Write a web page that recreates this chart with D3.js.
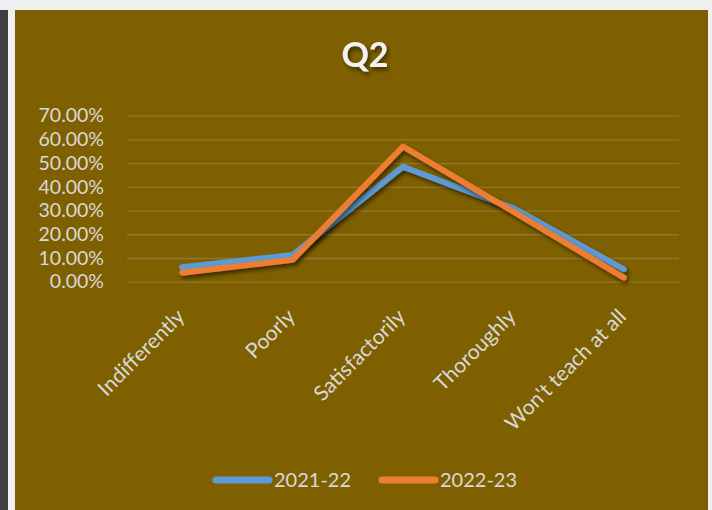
<!DOCTYPE html>
<html>
<head>
<meta charset="utf-8">
<script src="https://cdn.jsdelivr.net/npm/d3@7"></script>
<style>
  body { margin: 0; background: #f0f0f0; }
  svg { display: block; }
</style>
</head>
<body>
<div id="chart"></div>
<script>
// data
const categories = ["Indifferently", "Poorly", "Satisfactorily", "Thoroughly", "Won't teach at all"];
const values2122 = [0.061, 0.113, 0.485, 0.31, 0.052];
const values2223 = [0.038, 0.092, 0.57, 0.295, 0.017];
const seriesNames = ["2021-22", "2022-23"];
const yTicks = [0, 0.1, 0.2, 0.3, 0.4, 0.5, 0.6, 0.7];

// constants
const width = 712, height = 510;
const colors = ["#5B9BD5", "#ED7D31"];
const plot = { left: 127, right: 679, top: 115.7, bottom: 281.7 };
const font = "Lato, 'Open Sans', sans-serif";

const svg = d3.select("#chart")
  .append("svg")
  .attr("width", width)
  .attr("height", height);

// soft shadow under the lines and title
const defs = svg.append("defs");
defs.append("filter")
    .attr("id", "shadow")
    .attr("x", "-10%").attr("y", "-10%")
    .attr("width", "130%").attr("height", "140%")
  .append("feDropShadow")
    .attr("dx", 2).attr("dy", 3)
    .attr("stdDeviation", 2)
    .attr("flood-color", "#000")
    .attr("flood-opacity", 0.55);

// screenshot frame: dark strip at left, light border
svg.append("rect")
  .attr("x", 0).attr("y", 10)
  .attr("width", 8).attr("height", height - 10)
  .attr("fill", "#3f3f3f");

// chart area
svg.append("rect")
  .attr("x", 15).attr("y", 10)
  .attr("width", 693).attr("height", height - 10)
  .attr("fill", "#7F6000");

const x = d3.scalePoint()
  .domain(categories)
  .range([plot.left, plot.right])
  .padding(0.5);

const y = d3.scaleLinear()
  .domain([0, 0.7])
  .range([plot.bottom, plot.top]);

// gridlines + y labels
const yAxis = svg.append("g")
  .attr("transform", `translate(${plot.left},0)`)
  .call(d3.axisLeft(y)
    .tickValues(yTicks)
    .tickFormat(d3.format(".2%"))
    .tickSize(-(plot.right - plot.left))
    .tickPadding(23));

yAxis.select(".domain").remove();
yAxis.selectAll(".tick line")
  .attr("stroke", "#937631")
  .attr("stroke-width", 1.3);
yAxis.selectAll(".tick text")
  .attr("fill", "#D9D9D9")
  .style("font-family", font)
  .style("font-size", "19.5px");

// category labels, rotated
const xAxis = svg.append("g")
  .attr("transform", `translate(0,${plot.bottom})`)
  .call(d3.axisBottom(x).tickSize(0).tickPadding(0));

xAxis.select(".domain").remove();
xAxis.selectAll(".tick text")
  .attr("fill", "#D9D9D9")
  .style("font-family", font)
  .style("font-size", "21px")
  .attr("text-anchor", "end")
  .attr("dy", "0.35em")
  .attr("y", 0)
  .attr("transform", "translate(-2,31) rotate(-45)");

// lines
const line = d3.line()
  .x((d, i) => x(categories[i]))
  .y(d => y(d));

[values2122, values2223].forEach((vals, k) => {
  svg.append("path")
    .datum(vals)
    .attr("d", line)
    .attr("fill", "none")
    .attr("stroke", colors[k])
    .attr("stroke-width", 6)
    .attr("stroke-linecap", "round")
    .attr("stroke-linejoin", "round")
    .attr("filter", "url(#shadow)");
});

// title
svg.append("text")
  .attr("x", 365)
  .attr("y", 67)
  .attr("text-anchor", "middle")
  .attr("fill", "#F2F2F2")
  .attr("filter", "url(#shadow)")
  .style("font-family", font)
  .style("font-weight", "bold")
  .style("font-size", "34px")
  .text("Q2");

// legend
const legendX = [213, 379];
const legend = svg.selectAll(".legend")
    .data(seriesNames)
  .enter().append("g")
    .attr("class", "legend")
    .attr("transform", (d, i) => `translate(${legendX[i]},480)`);

legend.append("line")
  .attr("x1", 3).attr("x2", 56)
  .attr("stroke", (d, i) => colors[i])
  .attr("stroke-width", 7)
  .attr("stroke-linecap", "round");

legend.append("text")
  .attr("x", 61)
  .attr("y", 7)
  .attr("fill", "#D9D9D9")
  .style("font-family", font)
  .style("font-size", "20px")
  .text(d => d);
</script>
</body>
</html>
